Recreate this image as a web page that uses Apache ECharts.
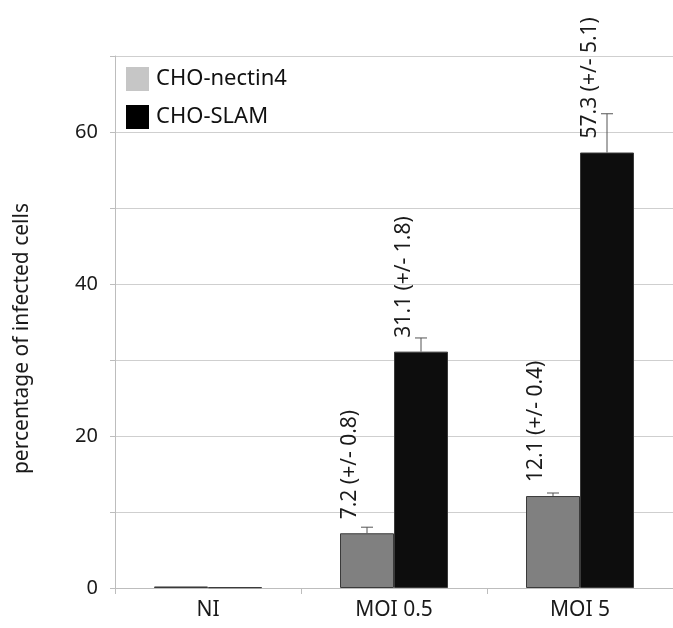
<!DOCTYPE html>
<html>
<head>
<meta charset="utf-8">
<style>
  html, body { margin: 0; padding: 0; background: #fff; }
  #chart { width: 673px; height: 628px; }
</style>
<script src="https://cdn.jsdelivr.net/npm/echarts@6/dist/echarts.min.js"></script>
</head>
<body>
<div id="chart"></div>
<script>
// 数据
const categories = ['NI', 'MOI 0.5', 'MOI 5']
const nectinValues = [0.2, 7.2, 12.1]
const nectinErrors = [0, 0.8, 0.4]
const slamValues = [0.1, 31.1, 57.3]
const slamErrors = [0, 1.8, 5.1]
const yTicks = [0, 20, 40, 60]

const FONT = '"Noto Sans"'
const BAR_W = 54

const chart = echarts.init(document.getElementById('chart'))

// error bar + rotated value label, drawn on top of each bar
const errorItem = (shift) => (params, api) => {
  const i = api.value(0)
  const v = api.value(1)
  const e = api.value(2)
  if (!e) return
  const base = api.coord([i, v])
  const top = api.coord([i, v + e])
  const x = base[0] + shift
  const lineStyle = { stroke: '#555', lineWidth: 1 }
  return {
    type: 'group',
    children: [
      { type: 'line', shape: { x1: x, y1: base[1], x2: x, y2: top[1] }, style: lineStyle },
      { type: 'line', shape: { x1: x - 6, y1: top[1], x2: x + 6, y2: top[1] }, style: lineStyle },
      {
        type: 'text',
        x: x - 17,
        y: base[1] - 14,
        rotation: Math.PI / 2,
        style: {
          text: v.toFixed(1) + ' (+/- ' + e.toFixed(1) + ')',
          align: 'left',
          verticalAlign: 'middle',
          font: '21px ' + FONT,
          fill: '#1a1a1a',
        },
      },
    ],
  }
}

const option = {
  backgroundColor: '#fff',
  animation: false,
  textStyle: { fontFamily: FONT },
  grid: { left: 115, right: -6, top: 56, bottom: 40 },
  legend: {
    orient: 'vertical',
    left: 121,
    top: 62,
    itemWidth: 23,
    itemHeight: 24,
    itemGap: 14,
    icon: 'rect',
    textStyle: { fontSize: 22, color: '#111', fontFamily: FONT, padding: [0, 0, 0, 2] },
    data: [
      { name: 'CHO-nectin4', itemStyle: { color: '#c6c6c6', borderWidth: 0 } },
      { name: 'CHO-SLAM', itemStyle: { color: '#000', borderWidth: 0 } },
    ],
  },
  graphic: [
    {
      type: 'text',
      left: 12,
      top: 203,
      rotation: Math.PI / 2,
      style: {
        text: 'percentage of infected cells',
        font: '21px ' + FONT,
        fill: '#1a1a1a',
      },
    },
  ],
  xAxis: {
    type: 'category',
    data: categories,
    axisLine: { lineStyle: { color: '#bdbdbd' } },
    axisTick: { show: true, length: 6, lineStyle: { color: '#bdbdbd' } },
    axisLabel: { fontSize: 21, color: '#1a1a1a', margin: 12, fontFamily: FONT },
  },
  yAxis: {
    type: 'value',
    min: 0,
    max: 70,
    interval: 10,
    axisLine: { show: true, lineStyle: { color: '#bdbdbd' } },
    axisTick: { show: true, length: 5, lineStyle: { color: '#bdbdbd' } },
    axisLabel: {
      fontSize: 20,
      color: '#1a1a1a',
      margin: 17,
      fontFamily: FONT,
      formatter: (val) => (yTicks.indexOf(val) >= 0 ? String(val) : ''),
    },
    splitLine: { lineStyle: { color: '#cfcfcf' } },
  },
  series: [
    {
      name: 'CHO-nectin4',
      type: 'bar',
      barWidth: BAR_W,
      barGap: 0,
      data: nectinValues,
      itemStyle: { color: '#808080', borderColor: '#3a3a3a', borderWidth: 1 },
    },
    {
      name: 'CHO-SLAM',
      type: 'bar',
      barWidth: BAR_W,
      barGap: 0,
      data: slamValues,
      itemStyle: { color: '#0d0d0d', borderColor: '#3a3a3a', borderWidth: 1 },
    },
    {
      type: 'custom',
      renderItem: errorItem(-BAR_W / 2),
      data: nectinValues.map((v, i) => [i, v, nectinErrors[i]]),
      z: 5,
    },
    {
      type: 'custom',
      renderItem: errorItem(BAR_W / 2),
      data: slamValues.map((v, i) => [i, v, slamErrors[i]]),
      z: 5,
    },
  ],
}

chart.setOption(option)
</script>
</body>
</html>
